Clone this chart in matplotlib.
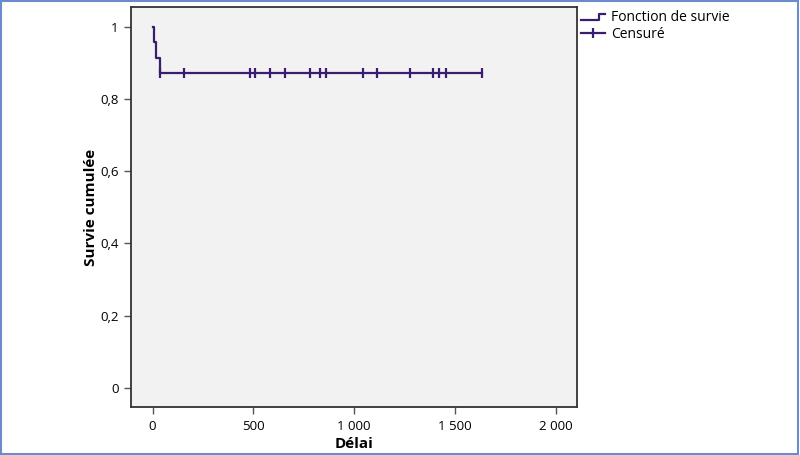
import numpy as np
import matplotlib
matplotlib.use("Agg")
import matplotlib.pyplot as plt
from matplotlib.lines import Line2D
from matplotlib.legend_handler import HandlerBase
from matplotlib.patches import Rectangle
from matplotlib.ticker import FuncFormatter

plt.rcParams['font.family'] = ['Open Sans', 'DejaVu Sans']

# Kaplan-Meier data
step_times = [0, 5, 19, 36, 1636]
step_surv = [1.0, 0.957, 0.913, 0.870, 0.870]
censor_times = [36, 156, 482, 507, 584, 657, 783, 831, 860,
                1046, 1114, 1276, 1391, 1420, 1454, 1636]
x_ticks = [0, 500, 1000, 1500, 2000]
y_ticks = [0, 0.2, 0.4, 0.6, 0.8, 1.0]

col = '#3a1d6e'


def surv_at(t):
    i = np.searchsorted(step_times, t, side='right') - 1
    return step_surv[i]


censor_surv = [surv_at(t) for t in censor_times]


class HandlerStep(HandlerBase):
    def create_artists(self, legend, orig_handle, xdescent, ydescent,
                       width, height, fontsize, trans):
        xs = np.array([0, 0.73, 0.73, 1.0]) * width - xdescent
        ys = np.array([0.15, 0.15, 0.75, 0.75]) * height - ydescent
        ln = Line2D(xs, ys, color=orig_handle.get_color(),
                    lw=orig_handle.get_linewidth())
        ln.set_transform(trans)
        return [ln]


fig = plt.figure(figsize=(8, 4.55), dpi=100)
ax = fig.add_axes([131 / 800, 48 / 455, 446 / 800, 400 / 455])
ax.set_facecolor('#f2f2f2')

line, = ax.plot(step_times, step_surv, drawstyle='steps-post',
                color=col, lw=1.6)
cens, = ax.plot(censor_times, censor_surv, ls='none', marker='|',
                ms=6.5, mew=1.6, color=col)

ax.set_xlim(-107, 2106)
ax.set_ylim(-0.053, 1.054)
ax.set_xticks(x_ticks)
ax.set_yticks(y_ticks)
ax.xaxis.set_major_formatter(FuncFormatter(
    lambda v, p: f"{int(v):,}".replace(',', ' ')))
ax.yaxis.set_major_formatter(FuncFormatter(
    lambda v, p: '0' if v == 0 else ('1' if v == 1 else f"{v:.1f}".replace('.', ','))))
ax.tick_params(direction='out', length=5, width=1, color='#555555',
               labelsize=9.5, pad=4)
for s in ax.spines.values():
    s.set_color('#333333')
    s.set_linewidth(1.3)

ax.set_xlabel('Délai', fontsize=11, fontweight='bold', labelpad=3.5)
ax.set_ylabel('Survie cumulée', fontsize=11, fontweight='bold', labelpad=1.5)

leg_cens = Line2D([], [], color=col, lw=1.6, marker='|', ms=6.5, mew=1.6)
fig.legend([line, leg_cens], ['Fonction de survie', 'Censuré'],
           handler_map={line: HandlerStep()},
           loc='upper left', bbox_to_anchor=(581 / 800, 1 - 10 / 455),
           bbox_transform=fig.transFigure, frameon=False, fontsize=10,
           borderpad=0, borderaxespad=0, handlelength=1.75,
           handletextpad=0.4, labelspacing=0.15)

fig.add_artist(Rectangle((0.001, 0.002), 0.997, 0.996,
                         transform=fig.transFigure, fill=False,
                         edgecolor='#6b8ccc', lw=1.5))

fig.savefig('out.png', dpi=100)
